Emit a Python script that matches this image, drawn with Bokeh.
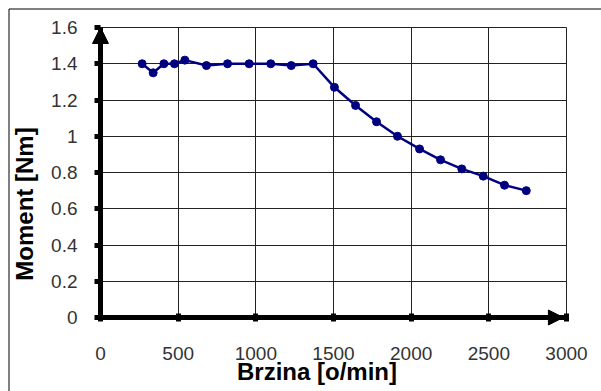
import math
from bokeh.plotting import figure
from bokeh.models import Range1d, FixedTicker, NumeralTickFormatter, Label, Arrow, NormalHead, BoxAnnotation
from bokeh.embed import file_html
from bokeh.resources import INLINE

# Data
speed = [268, 339, 408, 476, 543, 682, 818, 957, 1096, 1228, 1369,
         1506, 1642, 1777, 1912, 2054, 2189, 2326, 2464, 2601, 2741]
torque = [1.40, 1.35, 1.40, 1.40, 1.42, 1.39, 1.40, 1.40, 1.40, 1.39, 1.40,
          1.27, 1.17, 1.08, 1.00, 0.93, 0.87, 0.82, 0.78, 0.73, 0.70]
x_ticks = [0, 500, 1000, 1500, 2000, 2500, 3000]
y_ticks = [0, 0.2, 0.4, 0.6, 0.8, 1, 1.2, 1.4, 1.6]
x_title = "Brzina [o/min]"
y_title = "Moment [Nm]"

FONT = "Liberation Sans"
W, H = 601, 391
# pixel geometry of the plot area (x=0 at px 100, x=3000 at px 566; y=0 at px 317, y=1.6 at px 27)
kx = 466 / 3000.0
ky = 290 / 1.6
x0_px, y0_px = 100, 317

p = figure(width=W, height=H,
           min_border_left=0, min_border_right=0, min_border_top=0, min_border_bottom=0,
           x_range=Range1d(-x0_px / kx, (W - x0_px) / kx),
           y_range=Range1d(-(H - y0_px) / ky, y0_px / ky),
           output_backend="svg", toolbar_location=None,
           background_fill_color="white", border_fill_color="white")
p.outline_line_color = None

for ax in (p.xaxis[0], p.yaxis[0]):
    ax.fixed_location = 0
    ax.axis_line_width = 5
    ax.axis_line_color = "black"
    ax.major_tick_line_width = 5
    ax.major_tick_line_color = "black"
    ax.minor_tick_line_color = None
    ax.major_label_text_font = FONT
    ax.major_label_text_font_size = "19px"
    ax.major_label_text_color = "#333333"

p.xaxis[0].bounds = (x_ticks[0], x_ticks[-1])
p.yaxis[0].bounds = (y_ticks[0], y_ticks[-1])
p.xaxis[0].ticker = FixedTicker(ticks=x_ticks)
p.yaxis[0].ticker = FixedTicker(ticks=y_ticks)
p.xaxis[0].formatter = NumeralTickFormatter(format="0")
p.yaxis[0].formatter = NumeralTickFormatter(format="0.[0]")
p.xaxis[0].major_tick_in = 4
p.xaxis[0].major_tick_out = 4
p.xaxis[0].major_label_standoff = 25
p.yaxis[0].major_tick_in = 0
p.yaxis[0].major_tick_out = 6
p.yaxis[0].major_label_standoff = 17

p.xgrid.ticker = FixedTicker(ticks=x_ticks)
p.ygrid.ticker = FixedTicker(ticks=y_ticks)
p.xgrid.bounds = (x_ticks[0], x_ticks[-1])
p.ygrid.bounds = (y_ticks[0], y_ticks[-1])
p.xgrid.cross_bounds = (y_ticks[0], y_ticks[-1])
p.ygrid.cross_bounds = (x_ticks[0], x_ticks[-1])
for g in (p.xgrid, p.ygrid):
    g.grid_line_color = "#222222"
    g.grid_line_width = 1

# chart-area border: only its left and top edges fall inside the picture
p.add_layout(BoxAnnotation(left=(8.5 - x0_px) / kx, top=(y0_px - 8.5) / ky,
                           right=(W + 20 - x0_px) / kx, bottom=(y0_px - H - 20) / ky,
                           fill_alpha=0, line_color="black", line_width=1, line_alpha=1))

p.line(speed, torque, line_color="#000080", line_width=2.5)
p.scatter(speed, torque, size=8, fill_color="#000080", line_color="#000080")

# arrow heads on the axes
p.add_layout(Arrow(end=NormalHead(size=16, fill_color="black", line_color="black"),
                   x_start=0, y_start=1.45, x_end=0, y_end=1.6,
                   line_color="black", line_width=5))
p.add_layout(Arrow(end=NormalHead(size=15, fill_color="black", line_color="black"),
                   x_start=2850, y_start=0, x_end=2980, y_end=0,
                   line_color="black", line_width=5))

# axis titles
p.add_layout(Label(x=(316.5 - x0_px) / kx, y=(y0_px - 371) / ky, text=x_title,
                   text_font=FONT, text_font_size="24px", text_font_style="bold",
                   text_align="center", text_baseline="alphabetic", text_color="black"))
p.add_layout(Label(x=(24 - x0_px) / kx, y=(y0_px - 203.5) / ky, text=y_title,
                   text_font=FONT, text_font_size="24px", text_font_style="bold",
                   text_align="center", text_baseline="alphabetic",
                   angle=math.pi / 2, text_color="black"))

open("out.html", "w").write(file_html(p, INLINE))
